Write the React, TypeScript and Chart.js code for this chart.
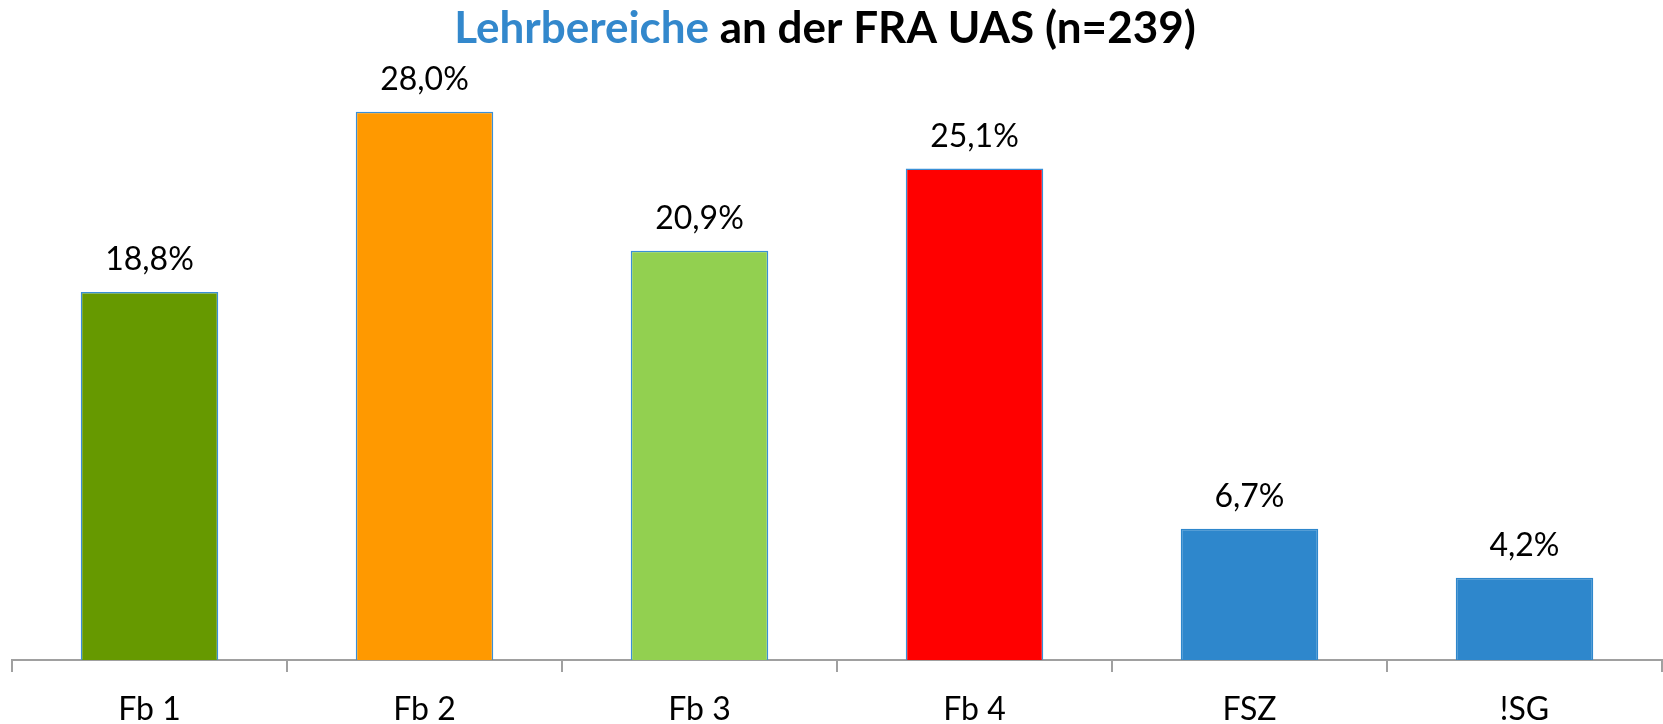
import React, { useEffect, useRef } from "react";
import { Chart, registerables } from "chart.js";

Chart.register(...registerables);

const categories = ["Fb 1", "Fb 2", "Fb 3", "Fb 4", "FSZ", "!SG"];
const values = [18.8, 28.0, 20.9, 25.1, 6.7, 4.2];
const barColors = ["#669900", "#FF9900", "#92D050", "#FF0000", "#2E87CC", "#2E87CC"];
const barBorderColors = ["#3A8FD6", "#3A8FD6", "#3A8FD6", "#3A8FD6", "#2E87CC", "#2E87CC"];
const titleHighlight = "Lehrbereiche";
const titleRest = " an der FRA UAS (n=239)";
const yMax = 30;

const FONT = "Lato, 'Open Sans', sans-serif";

const formatPct = (v: number) => v.toFixed(1).replace(".", ",") + "%";

const titlePlugin = {
  id: "mixedTitle",
  afterDraw(chart: any) {
    const ctx = chart.ctx;
    ctx.save();
    ctx.font = `bold 44px ${FONT}`;
    ctx.textBaseline = "alphabetic";
    ctx.textAlign = "left";
    const w1 = ctx.measureText(titleHighlight).width;
    const w2 = ctx.measureText(titleRest).width;
    const cx = 825;
    const x0 = cx - (w1 + w2) / 2;
    const y = 43;
    ctx.fillStyle = "#3388CC";
    ctx.fillText(titleHighlight, x0, y);
    ctx.fillStyle = "#000000";
    ctx.fillText(titleRest, x0 + w1, y);
    ctx.restore();
  },
};

const valueLabelPlugin = {
  id: "valueLabels",
  afterDatasetsDraw(chart: any) {
    const ctx = chart.ctx;
    const meta = chart.getDatasetMeta(0);
    ctx.save();
    ctx.font = `32px ${FONT}`;
    ctx.fillStyle = "#000000";
    ctx.textAlign = "center";
    ctx.textBaseline = "alphabetic";
    meta.data.forEach((bar: any, i: number) => {
      ctx.fillText(formatPct(values[i]), bar.x, bar.y - 22);
    });
    ctx.restore();
  },
};

export default function App() {
  const canvasRef = useRef<HTMLCanvasElement | null>(null);

  useEffect(() => {
    if (!canvasRef.current) return;
    const chart = new Chart(canvasRef.current, {
      type: "bar",
      data: {
        labels: categories,
        datasets: [
          {
            data: values,
            backgroundColor: barColors,
            borderColor: barBorderColors,
            borderWidth: 1.5,
            barPercentage: 0.5,
            categoryPercentage: 1,
          },
        ],
      },
      options: {
        responsive: false,
        animation: false,
        layout: { padding: { left: 12, right: 1, top: 72.6, bottom: 0 } },
        plugins: {
          legend: { display: false },
          title: { display: false },
          tooltip: { enabled: false },
        },
        scales: {
          y: {
            display: false,
            min: 0,
            max: yMax,
          },
          x: {
            afterFit: (scale: any) => {
              scale.height = 64;
            },
            border: { display: true, color: "#A0A0A0", width: 2 },
            grid: {
              display: true,
              offset: true,
              drawOnChartArea: false,
              drawTicks: true,
              tickLength: 12,
              color: "#A0A0A0",
              lineWidth: 2,
            },
            ticks: {
              color: "#000000",
              font: { family: FONT, size: 32 },
              padding: 18,
            },
          },
        },
      },
      plugins: [titlePlugin, valueLabelPlugin],
    });
    return () => chart.destroy();
  }, []);

  return (
    <div style={{ position: "fixed", left: 0, top: 0, width: 1663, height: 724, background: "#fff" }}>
      <canvas ref={canvasRef} width={1663} height={724} />
    </div>
  );
}
